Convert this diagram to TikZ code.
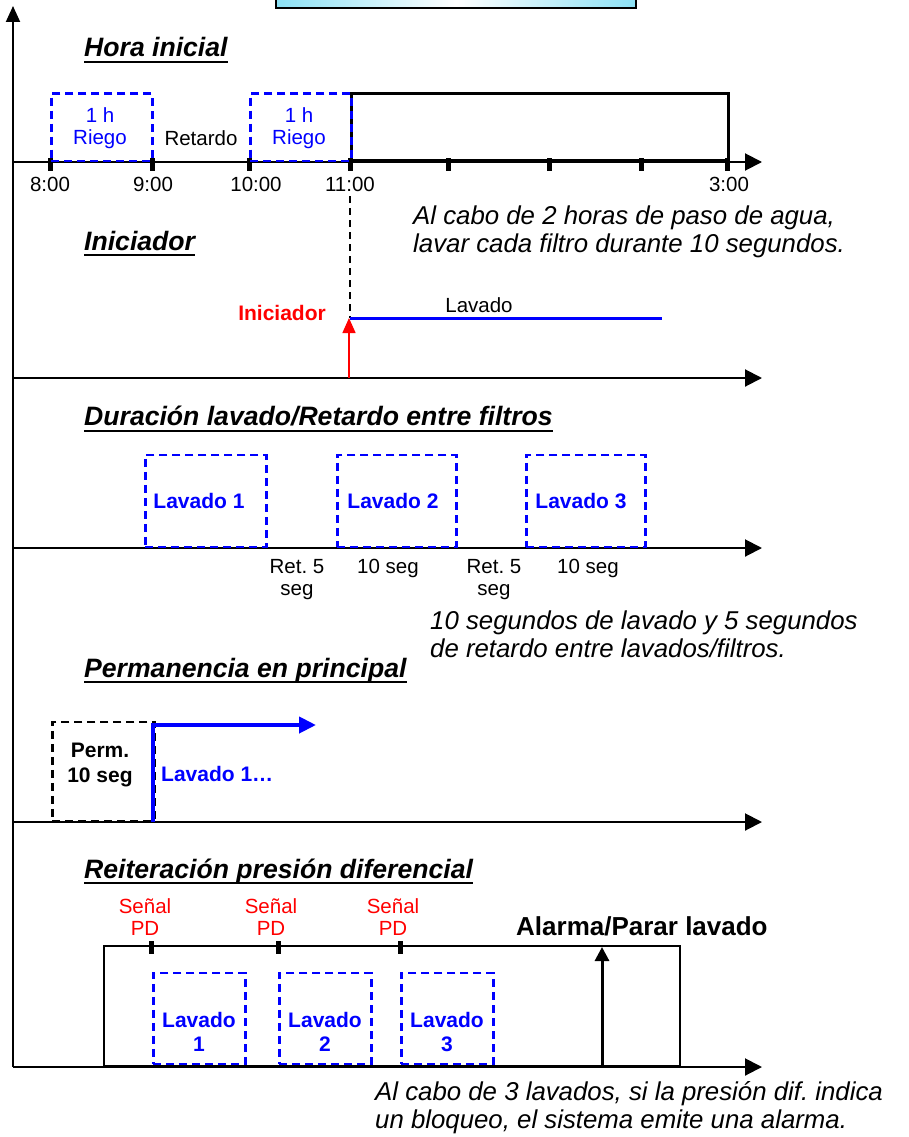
\documentclass[tikz,border=0pt]{standalone}
\usepackage{fontspec}
\setmainfont{Liberation Sans}
\usetikzlibrary{arrows.meta}
\frenchspacing

\definecolor{bluebox}{RGB}{0,0,255}
\definecolor{sigred}{RGB}{255,0,0}
\definecolor{capcyan}{RGB}{140,225,245}

% two centred lines / two left-aligned lines, baseline = first line
\newcommand\stackc[2]{\vtop{\halign{\hfil##\hfil\cr #1\cr #2\cr}}}
\newcommand\stackl[2]{\vtop{\halign{##\hfil\cr #1\cr #2\cr}}}

\tikzset{
  axis/.style={line width=2pt, -{Triangle[length=17pt,width=17pt]}},
  tickmark/.style={line width=5pt},
  uline/.style={line width=2.6pt},
  bluedash/.style={draw=bluebox, line width=2.5pt, dash pattern=on 8pt off 5pt,
                   anchor=south west, inner sep=0pt},
  blackdash/.style={draw=black, line width=2.5pt, dash pattern=on 8pt off 5pt,
                    anchor=south west, inner sep=0pt},
  frame/.style={draw=black, anchor=south west, inner sep=0pt},
  small/.style={font=\fontsize{20.5}{24}\selectfont, inner sep=0pt, anchor=base},
  boldlbl/.style={font=\fontsize{21}{24}\selectfont\bfseries, inner sep=0pt, anchor=base},
  heading/.style={font=\fontsize{26.6}{30}\selectfont\bfseries\itshape, inner sep=0pt, anchor=base west},
  note/.style={font=\fontsize{25.8}{28}\selectfont\itshape, inner sep=0pt, anchor=base west},
}

\begin{document}
\begin{tikzpicture}[x=1pt,y=-1pt]
\useasboundingbox (0,0) rectangle (908,1137);
\clip (0,0) rectangle (908,1137);

% title box at the top edge
\draw[line width=2pt, left color=capcyan, right color=capcyan, middle color=white]
  (276,-20) rectangle (636,8);

% vertical axis
\coordinate (vo) at (13,1067);
\coordinate (vt) at (13,6);
\draw[line width=2pt, -{Triangle[length=16pt,width=14pt]}] (vo) -- (vt);

% ---------- Hora inicial ----------
\node[heading] (hHora) at (84,57) {Hora inicial};
\draw[uline] ([yshift=-5pt]hHora.base west) -- ([yshift=-5pt]hHora.base east);

\coordinate (o1) at (13,162);
\coordinate (e1) at (762,162);
\draw[axis] (o1) -- (e1);
\foreach \x in {50,152,249,350,448,549,641,727}
  \draw[tickmark] (\x,158) -- (\x,171);

\node[frame, line width=2.8pt, minimum width=377pt, minimum height=67pt] (ventana) at (350,162) {};
\node[bluedash, minimum width=101pt, minimum height=67pt] (riego1) at (50,162) {};
\node[bluedash, minimum width=101pt, minimum height=67pt] (riego2) at (249,162) {};
\node[small, text=bluebox, font=\fontsize{20.5}{23}\selectfont] (tr1) at (100,122) {\stackc{1 h}{Riego}};
\node[small, text=bluebox, font=\fontsize{20.5}{23}\selectfont] (tr2) at (299,122) {\stackc{1 h}{Riego}};
\node[small] (tret) at (201,146) {Retardo};

\node[small] (t800) at (50,191) {8:00};
\node[small] (t900) at (153,191) {9:00};
\node[small] (t1000) at (256,191) {10:00};
\node[small] (t1100) at (350,191) {11:00};
\node[small] (t300) at (729,191) {3:00};

\node[note] (n1) at (413,224) {\stackl{Al cabo de 2 horas de paso de agua,}{lavar cada filtro durante 10 segundos.}};

% ---------- Iniciador ----------
\node[heading] (hIni) at (84,250) {Iniciador};
\draw[uline] ([yshift=-5pt]hIni.base west) -- ([yshift=-5pt]hIni.base east);

\coordinate (o2) at (13,378);
\coordinate (e2) at (762,378);
\draw[axis] (o2) -- (e2);

\coordinate (d0) at (350,196);
\coordinate (d1) at (350,318);
\draw[line width=1.3pt, dash pattern=on 7pt off 5pt] (d0) -- (d1);

\coordinate (lv0) at (350,318);
\coordinate (lv1) at (662,318);
\draw[bluebox, line width=3pt] (lv0) -- (lv1);
\node[small] (tlav) at (479,312) {Lavado};

\coordinate (ia) at (349,378);
\coordinate (ib) at (349,318);
\draw[sigred, line width=1.5pt, -{Triangle[length=15pt,width=13pt]}] (ia) -- (ib);
\node[boldlbl, text=sigred, anchor=base east] (tini) at (326,320) {Iniciador};

% ---------- Duracion lavado / Retardo ----------
\node[heading] (hDur) at (84,425) {Duración lavado/Retardo entre filtros};
\draw[uline] ([yshift=-6pt]hDur.base west) -- ([yshift=-6pt]hDur.base east);

\coordinate (o3) at (13,548);
\coordinate (e3) at (762,548);
\draw[axis] (o3) -- (e3);

\node[bluedash, minimum width=121pt, minimum height=92pt] (lav1) at (144,548) {};
\node[bluedash, minimum width=119pt, minimum height=92pt] (lav2) at (336,548) {};
\node[bluedash, minimum width=119pt, minimum height=92pt] (lav3) at (525,548) {};
\node[boldlbl, text=bluebox] (tl1) at (199,508) {Lavado 1};
\node[boldlbl, text=bluebox] (tl2) at (393,508) {Lavado 2};
\node[boldlbl, text=bluebox] (tl3) at (581,508) {Lavado 3};

\node[small, font=\fontsize{20.5}{22}\selectfont] (r1) at (297,573) {\stackc{Ret. 5}{seg}};
\node[small] (s1) at (388,573) {10 seg};
\node[small, font=\fontsize{20.5}{22}\selectfont] (r2) at (494,573) {\stackc{Ret. 5}{seg}};
\node[small] (s2) at (588,573) {10 seg};

\node[note] (n2) at (430,629) {\stackl{10 segundos de lavado y 5 segundos}{de retardo entre lavados/filtros.}};

% ---------- Permanencia en principal ----------
\node[heading] (hPerm) at (84,677) {Permanencia en principal};
\draw[uline] ([yshift=-5pt]hPerm.base west) -- ([yshift=-5pt]hPerm.base east);

\coordinate (o4) at (13,822);
\coordinate (e4) at (762,822);
\draw[axis] (o4) -- (e4);

\node[blackdash, minimum width=102pt, minimum height=99pt] (perm) at (51,822) {};
\node[boldlbl, font=\fontsize{21}{25}\selectfont\bfseries] (tperm) at (100,757) {\stackc{Perm.}{10 seg}};

\coordinate (p0) at (153,822);
\coordinate (p1) at (153,725);
\coordinate (p2) at (316,725);
\draw[bluebox, line width=4pt, -{Triangle[length=17pt,width=16pt]}] (p0) -- (p1) -- (p2);
\node[boldlbl, text=bluebox, anchor=base west] (tlp) at (161,781) {Lavado 1…};

% ---------- Reiteracion presion diferencial ----------
\node[heading] (hRei) at (84,878) {Reiteración presión diferencial};
\draw[uline] ([yshift=-5pt]hRei.base west) -- ([yshift=-5pt]hRei.base east);

\coordinate (o5) at (13,1067);
\coordinate (e5) at (762,1067);
\draw[axis] (o5) -- (e5);

\node[frame, line width=2pt, minimum width=576pt, minimum height=120pt] (ciclo) at (103,1067) {};
\foreach \x in {151,278,400}
  \draw[tickmark] (\x,941) -- (\x,954);

\node[small, text=sigred, font=\fontsize{20.5}{22}\selectfont] (pd1) at (145,913) {\stackc{Señal}{PD}};
\node[small, text=sigred, font=\fontsize{20.5}{22}\selectfont] (pd2) at (271,913) {\stackc{Señal}{PD}};
\node[small, text=sigred, font=\fontsize{20.5}{22}\selectfont] (pd3) at (393,913) {\stackc{Señal}{PD}};

\node[bluedash, minimum width=92pt, minimum height=91pt] (rl1) at (152,1065) {};
\node[bluedash, minimum width=92pt, minimum height=91pt] (rl2) at (278,1065) {};
\node[bluedash, minimum width=92pt, minimum height=91pt] (rl3) at (400,1065) {};
\node[boldlbl, text=bluebox] (trl1) at (199,1027) {\stackc{Lavado}{1}};
\node[boldlbl, text=bluebox] (trl2) at (325,1027) {\stackc{Lavado}{2}};
\node[boldlbl, text=bluebox] (trl3) at (447,1027) {\stackc{Lavado}{3}};

\coordinate (al0) at (602,1067);
\coordinate (al1) at (602,947);
\draw[line width=3pt, -{Triangle[length=14pt,width=14pt]}] (al0) -- (al1);
\node[boldlbl, font=\fontsize{26}{30}\selectfont\bfseries, anchor=base west] (talarma) at (516,935) {Alarma/Parar lavado};

\node[note] (n3) at (375,1100) {\stackl{Al cabo de 3 lavados, si la presión dif. indica}{un bloqueo, el sistema emite una alarma.}};
\end{tikzpicture}
\end{document}
